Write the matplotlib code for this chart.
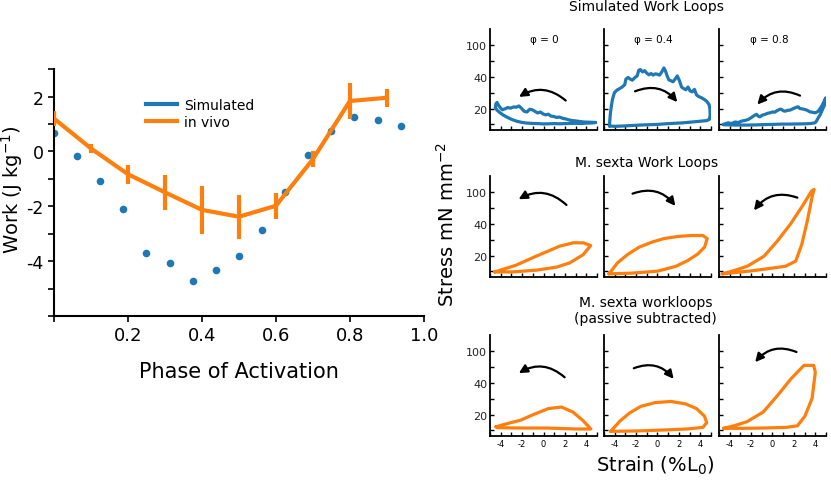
import matplotlib
matplotlib.use("Agg")
import matplotlib.pyplot as plt
from matplotlib.lines import Line2D
from matplotlib.patches import FancyArrowPatch

plt.rcParams["axes.unicode_minus"] = False

BLUE = "#1f77b4"
ORANGE = "#ff7f0e"

# ---- left panel: work vs phase of activation ----
phase_sim = [0.0, 0.0625, 0.125, 0.1875, 0.25, 0.3125, 0.375, 0.4375,
             0.5, 0.5625, 0.625, 0.6875, 0.75, 0.8125, 0.875, 0.9375]
work_sim = [0.67, -0.15, -1.07, -2.09, -3.71, -4.05, -4.73, -4.32,
            -3.81, -2.86, -1.49, -0.12, 0.74, 1.27, 1.16, 0.93]

phase_vivo = [0.0, 0.1, 0.2, 0.3, 0.4, 0.5, 0.6, 0.7, 0.8, 0.9]
work_vivo = [1.2, 0.11, -0.83, -1.49, -2.13, -2.38, -1.98, -0.28, 1.84, 1.96]
work_vivo_err = [0.27, 0.16, 0.35, 0.65, 0.87, 0.81, 0.48, 0.28, 0.65, 0.33]

# ---- right panels: work loops (strain %L0, stress in axis units) ----
sim0_strain = [-4.5, -4.45, -4.35, -4.2, -4.05, -3.85, -3.6, -3.35, -3.1, -2.8,
               -2.55, -2.3, -2.05, -1.8, -1.55, -1.3, -1.05, -0.8, -0.55, -0.3,
               -0.05, 0.2, 0.45, 0.7, 0.95, 1.2, 1.5, 1.8, 2.1, 2.4,
               2.7, 3.0, 3.4, 3.8, 4.2, 4.6, 4.9, 4.5, 4.0, 3.5,
               3.0, 2.5, 2.0, 1.5, 1.0, 0.5, 0.0, -0.5, -1.0, -1.5,
               -2.0, -2.5, -3.0, -3.4, -3.8, -4.1, -4.35, -4.5]
sim0_stress = [2.05, 2.3, 2.38, 2.2, 2.05, 1.92, 1.98, 2.06, 2.02, 2.1,
               2.08, 2.16, 2.0, 1.82, 1.78, 1.95, 1.92, 1.82, 1.72, 1.78,
               1.66, 1.6, 1.64, 1.52, 1.5, 1.44, 1.46, 1.38, 1.34, 1.28,
               1.24, 1.22, 1.18, 1.15, 1.14, 1.13, 1.12, 1.09, 1.08, 1.06,
               1.07, 1.06, 1.05, 1.04, 1.05, 1.04, 1.03, 1.05, 1.06, 1.08,
               1.12, 1.2, 1.32, 1.45, 1.6, 1.75, 1.9, 2.05]

sim4_strain = [-4.49, -4.45, -4.4, -4.3, -4.2, -4.02, -3.8, -3.54, -3.3, -3.06,
               -2.95, -2.75, -2.55, -2.35, -2.1, -1.9, -1.75, -1.6, -1.4, -1.2,
               -1.0, -0.8, -0.6, -0.4, -0.2, 0.0, 0.2, 0.4, 0.6, 0.75,
               0.9, 1.06, 1.25, 1.45, 1.65, 1.85, 2.05, 2.25, 2.45, 2.65,
               2.85, 3.05, 3.25, 3.45, 3.65, 3.85, 4.1, 4.35, 4.6, 4.82,
               4.9, 4.92, 4.85, 4.6, 4.0, 3.2, 2.4, 1.6, 0.8, 0.0,
               -0.8, -1.6, -2.4, -3.2, -4.0, -4.49]
sim4_stress = [0.9, 1.3, 1.7, 2.2, 2.6, 3.0, 3.15, 3.25, 3.35, 3.5,
               3.85, 3.95, 3.85, 3.78, 3.95, 4.05, 4.4, 4.45, 4.3, 4.38,
               4.22, 4.12, 4.2, 4.1, 4.18, 4.15, 4.1, 4.3, 4.55, 4.35,
               4.05, 3.8, 3.75, 3.68, 3.85, 4.05, 3.75, 3.35, 3.25, 3.18,
               3.35, 3.1, 3.05, 3.2, 2.85, 2.75, 2.68, 2.58, 2.45, 2.25,
               1.95, 1.6, 1.32, 1.24, 1.2, 1.15, 1.1, 1.07, 1.04, 1.0,
               0.98, 0.96, 0.93, 0.9, 0.88, 0.9]

sim8_strain = [-4.6, -4.35, -4.13, -3.85, -3.5, -3.2, -2.88, -2.55, -2.26, -2.0,
               -1.79, -1.6, -1.48, -1.3, -1.17, -0.95, -0.7, -0.45, -0.23, 0.0,
               0.23, 0.4, 0.54, 0.7, 0.86, 1.0, 1.17, 1.4, 1.64, 1.9,
               2.1, 2.3, 2.41, 2.55, 2.73, 2.95, 3.2, 3.5, 3.75, 3.97,
               4.15, 4.28, 4.45, 4.6, 4.75, 4.9, 4.97, 4.85, 4.6, 4.45,
               4.28, 4.1, 3.97, 3.6, 3.2, 2.41, 1.6, 0.86, 0.0, -0.7,
               -1.5, -2.26, -3.0, -3.5, -4.1, -4.6]
sim8_stress = [1.0, 1.06, 1.1, 1.05, 1.15, 1.12, 1.21, 1.25, 1.31, 1.42,
               1.52, 1.6, 1.63, 1.5, 1.48, 1.58, 1.63, 1.7, 1.73, 1.78,
               1.77, 1.86, 1.9, 1.96, 1.94, 1.86, 1.83, 1.88, 1.9, 1.98,
               2.04, 2.1, 2.1, 2.0, 1.98, 1.95, 1.9, 1.79, 1.76, 1.73,
               1.78, 1.83, 2.0, 2.15, 2.35, 2.56, 2.67, 2.2, 1.83, 1.6,
               1.42, 1.2, 1.1, 1.06, 1.04, 1.03, 1.02, 1.02, 1.0, 0.99,
               0.97, 0.96, 0.96, 0.96, 0.97, 0.98]

ms0_strain = [-4.56, -2.58, -0.69, 1.51, 2.77, 3.71, 4.4, 3.71, 2.45, 1.2, -0.69, -2.9, -4.56]
ms0_stress = [0.97, 1.39, 1.96, 2.59, 2.8, 2.8, 2.63, 2.06, 1.54, 1.27, 1.08, 0.97, 0.97]

ms4_strain = [-4.53, -3.74, -2.8, -1.71, -0.45, 0.64, 1.9, 3.15, 4.24, 4.65,
              4.4, 3.77, 2.84, 1.74, 0.02, -2.49, -4.53]
ms4_stress = [0.85, 1.54, 2.06, 2.53, 2.86, 3.07, 3.2, 3.26, 3.26, 3.07,
              2.53, 2.1, 1.69, 1.33, 1.02, 0.89, 0.85]

ms8_strain = [-4.69, -3.76, -2.35, -0.79, 0.45, 1.7, 2.79, 3.66, 3.88,
              3.72, 3.25, 2.73, 2.17, 1.23, -0.33, -2.2, -4.69]
ms8_stress = [0.85, 1.02, 1.33, 1.96, 2.91, 4.0, 5.11, 6.06, 6.16,
              5.75, 4.17, 2.69, 1.65, 1.33, 1.18, 1.02, 0.85]

ps0_strain = [-4.45, -3.38, -2.16, -0.94, 0.44, 1.67, 2.73, 3.65, 4.42,
              3.04, 0.29, -1.85, -4.3, -4.45]
ps0_stress = [1.23, 1.43, 1.64, 2.0, 2.37, 2.47, 2.16, 1.64, 1.09,
              1.09, 1.15, 1.15, 1.17, 1.23]

ps4_strain = [-4.38, -3.49, -2.6, -1.56, -0.22, 1.27, 2.61, 3.65, 4.39, 4.6,
              4.24, 2.76, 0.67, -1.71, -4.38]
ps4_stress = [0.94, 1.6, 2.1, 2.51, 2.75, 2.82, 2.67, 2.37, 1.9, 1.49,
              1.19, 1.09, 1.03, 0.97, 0.94]

ps8_strain = [-4.57, -3.6, -2.38, -0.86, 0.5, 1.72, 2.94, 3.85, 4.0,
              3.7, 3.03, 2.33, 1.27, -0.86, -2.99, -4.57]
ps8_stress = [1.13, 1.29, 1.55, 2.16, 3.22, 4.24, 5.09, 5.09, 4.65,
              3.02, 1.9, 1.29, 1.19, 1.15, 1.13, 1.13]

stress_ticks = [2, 4, 6]
stress_labels = ["20", "40", "100"]
strain_ticks = [-4, -2, 0, 2, 4]
strain_labels = ["-4", "-2", "0", "2", "4"]
phi_labels = ["\u03c6 = 0", "\u03c6 = 0.4", "\u03c6 = 0.8"]

fig = plt.figure(figsize=(8.31, 4.81), dpi=100)

# ---- left plot ----
ax = fig.add_axes([0.065, 0.341, 0.445, 0.513])
ax.plot(phase_vivo, work_vivo, color=ORANGE, lw=3, zorder=3)
ax.errorbar(phase_vivo, work_vivo, yerr=work_vivo_err, fmt="none",
            ecolor=ORANGE, elinewidth=3, capsize=0, zorder=3)
ax.scatter(phase_sim, work_sim, s=30, color=BLUE, linewidths=0, zorder=2)
ax.set_xlim(0, 1)
ax.set_ylim(-6, 3)
ax.set_xticks([0, 0.2, 0.4, 0.6, 0.8, 1.0])
ax.set_xticklabels(["", "0.2", "0.4", "0.6", "0.8", "1.0"])
ax.set_yticks([-4, -2, 0, 2])
ax.set_yticks([-6, -5, -3, -1, 1, 3], minor=True)
ax.tick_params(labelsize=13, width=1.2, length=4, direction="out")
ax.tick_params(axis="y", labelsize=12.5)
ax.tick_params(which="minor", width=1.2, length=4)
for s in ["top", "right"]:
    ax.spines[s].set_visible(False)
for s in ["left", "bottom"]:
    ax.spines[s].set_linewidth(1.5)
ax.set_xlabel("Phase of Activation", fontsize=15, labelpad=12)
fig.text(0.0145, 1 - 190 / 481, "Work (J kg$^{-1}$)", rotation=90,
         ha="center", va="center", fontsize=14)
handles = [Line2D([], [], color=BLUE, lw=3), Line2D([], [], color=ORANGE, lw=3)]
ax.legend(handles, ["Simulated", "in vivo"], frameon=False, loc="upper left",
          bbox_to_anchor=(0.25, 0.885), borderaxespad=0, borderpad=0,
          fontsize=10, handlelength=2.2, handletextpad=0.5, labelspacing=0.25)

# ---- right panels ----
col_left = [0.5897, 0.7268, 0.8652]
row_bottom = [0.7277, 0.422, 0.0915]
panel_w = 0.1288
panel_h = 0.21

loops = [
    [(sim0_strain, sim0_stress), (sim4_strain, sim4_stress), (sim8_strain, sim8_stress)],
    [(ms0_strain, ms0_stress), (ms4_strain, ms4_stress), (ms8_strain, ms8_stress)],
    [(ps0_strain, ps0_stress), (ps4_strain, ps4_stress), (ps8_strain, ps8_stress)],
]
row_colors = [BLUE, ORANGE, ORANGE]

# curved arrows: (x_start, y_start, x_end, y_end, rad)
arrows = [
    [(2.07, 2.5, -2.29, 2.73, 0.36), (-2.1, 3.08, 1.85, 2.4, -0.36), (2.57, 2.81, -1.42, 2.25, 0.36)],
    [(2.14, 5.18, -2.33, 5.54, 0.36), (-2.33, 5.89, 1.67, 5.12, -0.36), (2.32, 5.64, -1.73, 4.84, 0.36)],
    [(1.97, 4.34, -2.31, 4.6, 0.36), (-2.21, 4.91, 1.51, 4.24, -0.36), (2.24, 5.93, -1.62, 5.29, 0.36)],
]
phi_x = [0.51, 0.46, 0.47]

for r in range(3):
    for c in range(3):
        pax = fig.add_axes([col_left[c], row_bottom[r], panel_w, panel_h])
        xs, ys = loops[r][c]
        pax.plot(xs, ys, color=row_colors[r], lw=2.3,
                 solid_joinstyle="round", solid_capstyle="round")
        pax.set_xlim(-5, 5)
        pax.set_ylim(0.65, 7.0)
        pax.set_xticks(strain_ticks)
        pax.set_xticks([-5, -3, -1, 1, 3, 5], minor=True)
        pax.set_yticks(stress_ticks)
        pax.set_yticks([1, 3, 5], minor=True)
        if r == 2:
            pax.set_xticklabels(strain_labels, fontsize=6)
        else:
            pax.set_xticklabels([])
        if c == 0:
            pax.set_yticklabels(stress_labels, fontsize=8, color="#222222")
        else:
            pax.set_yticklabels([])
        pax.tick_params(which="both", direction="in", length=3, width=1, pad=2)
        for s in ["top", "right"]:
            pax.spines[s].set_visible(False)
        for s in ["left", "bottom"]:
            pax.spines[s].set_linewidth(1.3)
        x0, y0, x1, y1, rad = arrows[r][c]
        arr = FancyArrowPatch((x0, y0), (x1, y1),
                              connectionstyle=f"arc3,rad={rad}",
                              arrowstyle="-|>,head_length=0.5,head_width=0.25",
                              mutation_scale=10, lw=1.6, color="black",
                              shrinkA=0, shrinkB=0)
        pax.add_patch(arr)
        if r == 0:
            pax.text(phi_x[c], 0.9, phi_labels[c], transform=pax.transAxes,
                     ha="center", va="center", fontsize=7.5)

fig.text(0.778, 0.985, "Simulated Work Loops", ha="center", va="center", fontsize=10)
fig.text(0.778, 1 - 162.7 / 481, "M. sexta Work Loops", ha="center", va="center", fontsize=10)
fig.text(0.777, 1 - 311 / 481, "M. sexta workloops\n(passive subtracted)",
         ha="center", va="center", fontsize=10, linespacing=1.15)
fig.text(0.538, 0.534, "Stress mN mm$^{-2}$", rotation=90, ha="center", va="center", fontsize=14)
fig.text(0.788, 1 - 466 / 481, "Strain (%L$_0$)", ha="center", va="center", fontsize=14)

fig.savefig("out.png", dpi=100)
plt.close(fig)
